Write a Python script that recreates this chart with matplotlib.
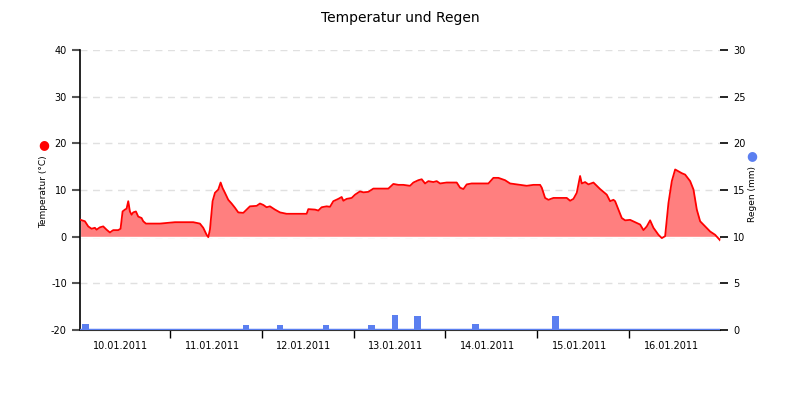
import matplotlib
matplotlib.use('Agg')
import matplotlib.pyplot as plt
import matplotlib.dates as mdates
import pandas as pd

plt.rcParams['axes.unicode_minus'] = False

start = pd.Timestamp('2011-01-10 00:00')

# temperature, hours since 10.01.2011 00:00
temp_hours = [0.65, 1.78, 2.65, 3.52, 4.39, 4.83, 5.70, 6.57, 7.44, 8.31, 9.18, 10.49, 11.10,
              11.63, 12.24, 12.67, 13.11, 13.54, 13.98, 14.41, 15.11, 15.72, 16.59, 17.03, 17.73,
              18.77, 21.39, 25.31, 30.10, 31.84, 32.71, 33.59, 34.02, 34.46, 35.15, 35.77, 36.64,
              37.25, 37.77, 38.38, 39.25, 40.12, 40.99, 41.86, 43.17, 44.04, 44.91, 46.66, 47.53,
              48.40, 49.27, 50.14, 51.45, 52.76, 54.50, 57.12, 59.73, 60.17, 61.91, 62.78, 63.65,
              64.96, 65.83, 66.70, 68.01, 68.88, 69.32, 70.19, 71.50, 72.37, 73.67, 74.55, 75.85,
              77.16, 79.77, 81.08, 82.39, 83.70, 85.00, 86.75, 87.62, 88.92, 89.80, 90.67, 91.54,
              92.84, 93.72, 94.59, 96.33, 98.95, 99.82, 100.69, 101.56, 102.87, 107.23, 108.53,
              109.84, 111.58, 112.89, 115.50, 117.25, 118.99, 120.73, 121.17, 122.04, 122.91,
              124.22, 127.70, 128.58, 129.45, 130.32, 131.19, 131.63, 132.50, 133.37, 134.68,
              136.42, 138.16, 139.03, 139.91, 140.34, 141.21, 142.08, 142.96, 144.26, 145.57,
              146.88, 147.75, 148.62, 149.49, 150.36, 151.67, 152.54, 153.41, 154.28, 155.16,
              156.03, 156.90, 157.77, 158.64, 159.95, 160.82, 161.69, 162.56, 163.87, 165.18,
              166.48, 167.79]
temp_values = [3.6, 3.3, 2.2, 1.7, 1.9, 1.5, 2.0, 2.2, 1.5, 0.9, 1.4, 1.4, 1.7,
               5.4, 5.8, 6.0, 7.6, 5.4, 4.7, 5.2, 5.4, 4.3, 4.0, 3.3, 2.8,
               2.8, 2.8, 3.1, 3.1, 2.8, 1.9, 0.4, -0.1, 1.5, 7.6, 9.4, 10.1,
               11.6, 10.4, 9.4, 7.9, 7.1, 6.2, 5.2, 5.1, 5.8, 6.5, 6.6, 7.1,
               6.8, 6.3, 6.5, 5.8, 5.2, 4.9, 4.9, 4.9, 5.9, 5.8, 5.6, 6.3,
               6.5, 6.4, 7.6, 8.1, 8.5, 7.7, 8.1, 8.3, 9.0, 9.7, 9.5, 9.6,
               10.3, 10.3, 10.3, 11.3, 11.1, 11.1, 10.9, 11.6, 12.1, 12.3, 11.4, 11.9,
               11.7, 11.9, 11.4, 11.6, 11.6, 10.5, 10.2, 11.2, 11.4, 11.4, 12.6,
               12.6, 12.1, 11.4, 11.1, 10.9, 11.1, 11.1, 10.5, 8.3, 7.9,
               8.3, 8.3, 7.7, 8.1, 9.4, 13.0, 11.4, 11.7, 11.2, 11.6,
               10.2, 9.0, 7.6, 7.9, 7.6, 5.8, 4.0, 3.5, 3.6, 3.1,
               2.6, 1.4, 2.2, 3.5, 1.9, 0.4, -0.3, 0.1, 7.2, 11.9,
               14.4, 14.0, 13.6, 13.3, 11.9, 10.1, 5.8, 3.3, 2.2, 1.1,
               0.4, -0.8]

# rain, hours since 10.01.2011 00:00
rain_hours = [1.96, 43.9, 52.8, 64.8, 76.6, 82.8, 88.7, 103.8, 124.7]
rain_values = [0.6, 0.5, 0.5, 0.5, 0.5, 1.6, 1.5, 0.6, 1.5]

day_labels = ['10.01.2011', '11.01.2011', '12.01.2011', '13.01.2011',
              '14.01.2011', '15.01.2011', '16.01.2011']

t_temp = start + pd.to_timedelta(temp_hours, unit='h')
t_rain = start + pd.to_timedelta(rain_hours, unit='h')

red = '#ff0000'
blue = '#5b7ff0'

fig = plt.figure(figsize=(8, 4), dpi=100)
ax = fig.add_axes([0.1, 0.175, 0.8, 0.7])
ax2 = ax.twinx()

ax.fill_between(t_temp, temp_values, 0, color='#ff7f7f', lw=0, zorder=2)
ax.plot(t_temp, temp_values, color=red, lw=1.3, zorder=3)

ax2.bar(t_rain, rain_values, width=0.072, color=blue, zorder=3)
ax2.axhline(0, color=blue, lw=2.5, zorder=2)

ax.set_ylim(-20, 40)
ax.set_yticks(range(-20, 41, 10))
ax2.set_ylim(0, 30)
ax2.set_yticks(range(0, 31, 5))
ax.grid(axis='y', color='#e0e0e0', ls=(0, (5, 4)), lw=1, zorder=1)
ax.set_axisbelow(True)
ax.axhline(0, color='white', lw=1, zorder=2.5)

x0 = start + pd.Timedelta(minutes=30)
x1 = start + pd.Timedelta(days=7) - pd.Timedelta(minutes=15)
ax.set_xlim(x0, x1)
ax.xaxis.set_major_locator(mdates.DayLocator())
ax.xaxis.set_major_formatter(plt.NullFormatter())
ax.xaxis.set_minor_locator(mdates.HourLocator(byhour=[11]))
ax.xaxis.set_minor_formatter(plt.FixedFormatter(day_labels))
ax.tick_params(axis='x', which='major', length=6, width=1, color='black')
ax.tick_params(axis='x', which='minor', length=0, labelsize=7, pad=8)

ax.tick_params(axis='y', length=6, width=1.5, color='#555555', labelsize=7)
ax2.tick_params(axis='y', length=6, width=1.2, color='black', labelsize=7)

for a in (ax, ax2):
    a.spines['top'].set_visible(False)
    a.spines['right'].set_visible(False)
ax2.spines['left'].set_visible(False)
ax2.spines['bottom'].set_visible(False)
ax.spines['left'].set_linewidth(1.2)
ax.spines['bottom'].set_color('#333333')

fig.text(0.5, 0.955, 'Temperatur und Regen', ha='center', va='center', fontsize=10)
fig.text(0.054, 0.52, 'Temperatur (°C)', rotation=90, ha='center', va='center', fontsize=6.5)
fig.text(0.055, 0.638, '●', color=red, ha='center', va='center', fontsize=9)
fig.text(0.941, 0.515, 'Regen (mm)', rotation=90, ha='center', va='center', fontsize=6.5)
fig.text(0.940, 0.612, '●', color=blue, ha='center', va='center', fontsize=9)

fig.savefig('out.png', dpi=100)
